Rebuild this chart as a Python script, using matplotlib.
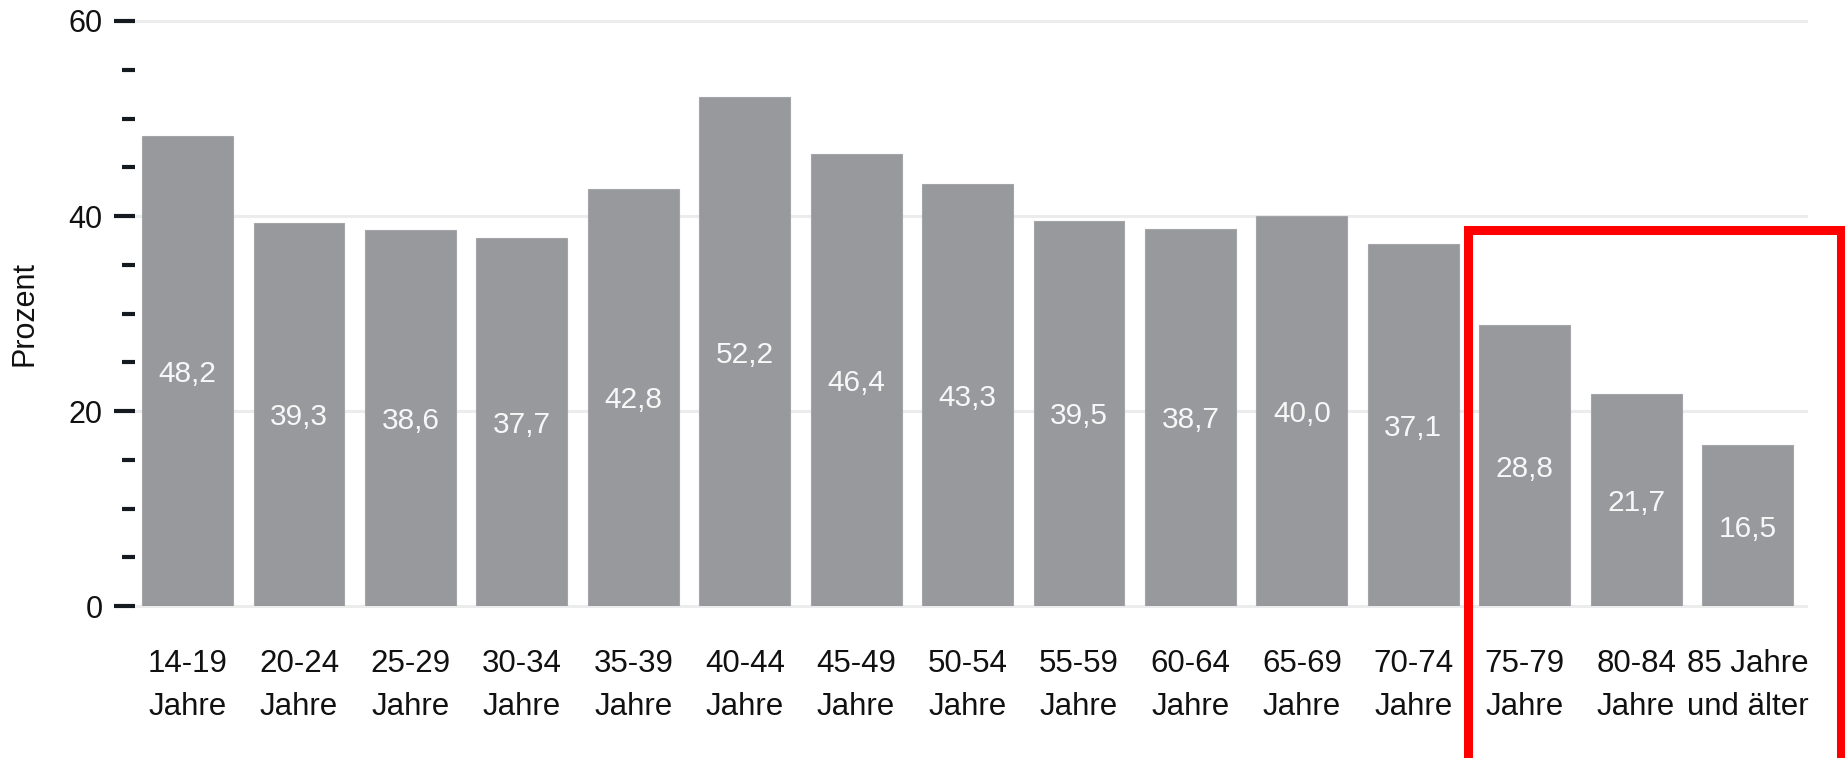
import numpy as np
import matplotlib
matplotlib.use("Agg")
import matplotlib.pyplot as plt
from matplotlib.patches import Rectangle

plt.rcParams['font.family'] = ['Liberation Sans', 'DejaVu Sans']

# Altersgruppen und Anteile in Prozent
gruppen = ["14-19\nJahre", "20-24\nJahre", "25-29\nJahre", "30-34\nJahre", "35-39\nJahre",
           "40-44\nJahre", "45-49\nJahre", "50-54\nJahre", "55-59\nJahre", "60-64\nJahre",
           "65-69\nJahre", "70-74\nJahre", "75-79\nJahre", "80-84\nJahre", "85 Jahre\nund älter"]
werte = [48.2, 39.3, 38.6, 37.7, 42.8, 52.2, 46.4, 43.3, 39.5, 38.7, 40.0, 37.1, 28.8, 21.7, 16.5]
y_ticks = [0, 20, 40, 60]

fig = plt.figure(figsize=(18.45, 7.58), dpi=100)
ax = fig.add_axes([0.0732, 0.2005, 0.9057, 0.7718])

x = np.arange(len(werte))
ax.bar(x, werte, width=0.815, color="#98999d", edgecolor="#a4a5a8", linewidth=0.8, zorder=2)

# Werte mittig in die Balken schreiben
for xi, w in zip(x, werte):
    ax.text(xi, w / 2, f"{w:.1f}".replace(".", ","), ha="center", va="center_baseline",
            color="#f7f7f7", fontsize=21.5, zorder=3)

ax.set_xlim(-0.471, 14.525)
ax.set_ylim(0, 60)
ax.set_yticks(y_ticks)
ax.set_yticks(np.arange(0, 61, 5), minor=True)
ax.set_xticks(x)
ax.set_xticklabels(gruppen, fontsize=22.5, linespacing=1.55, color="#111111")
ax.tick_params(axis="x", length=0, pad=31)
ax.tick_params(axis="y", which="major", length=15, width=3, color="#151a20",
               labelsize=22, labelcolor="#111111", pad=8.5)
ax.tick_params(axis="y", which="minor", length=9.5, width=3, color="#151a20")

ax.grid(axis="y", color="#ececec", linewidth=2.2, zorder=0)
ax.set_axisbelow(True)
for gl in ax.get_ygridlines():
    gl.set_clip_on(False)
for t in ax.yaxis.get_major_ticks() + ax.yaxis.get_minor_ticks():
    t.tick1line.set_solid_capstyle("round")

for s in ax.spines.values():
    s.set_visible(False)

ax.set_ylabel("Prozent", fontsize=22, color="#111111")
ax.yaxis.set_label_coords(-0.057, 0.5)

# rote Markierung der höchsten Altersgruppen
fig.patches.append(Rectangle((0.7954, -0.01), 0.2022, 0.706, transform=fig.transFigure,
                             fill=False, edgecolor="#ff0000", linewidth=6.5))

fig.savefig("out.png", dpi=100, facecolor="white")
